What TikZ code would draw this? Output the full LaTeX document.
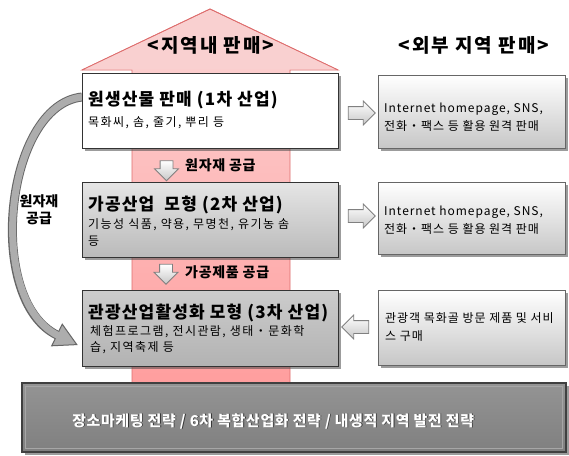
\documentclass[tikz,border=0pt]{standalone}
\usepackage{fontspec}
\setmainfont{Noto Sans CJK KR}
\usetikzlibrary{shapes.arrows,shadows}
\definecolor{headpink}{RGB}{249,208,208}
\definecolor{pinkline}{RGB}{222,110,110}
\definecolor{shafttop}{RGB}{251,214,214}
\definecolor{shaftbot}{RGB}{255,158,158}
\begin{document}
\begin{tikzpicture}[x=1pt,y=-1pt,
  shadowed/.style={drop shadow={shadow xshift=2.5pt,shadow yshift=-2.5pt,opacity=0.55,fill=black!70}},
  mainbox/.style={draw=black!80,line width=0.9pt,minimum width=256pt,inner sep=0pt,shadowed},
  sidebox/.style={draw=black!60,line width=0.8pt,minimum width=187pt,inner sep=0pt,top color=white,bottom color=black!22,shadowed},
  ttl/.style={anchor=west,inner sep=0pt,font=\fontsize{17}{19}\selectfont\bfseries\addfontfeatures{LetterSpace=7}},
  sub/.style={anchor=west,inner sep=0pt,font=\fontsize{12}{14}\selectfont\addfontfeatures{LetterSpace=12}},
  side/.style={anchor=west,inner sep=0pt,align=left,font=\fontsize{12}{18}\selectfont\addfontfeatures{LetterSpace=8}},
  hollow/.style={single arrow,draw=black!50,line width=0.8pt,top color=white,bottom color=black!22,
    minimum height=27pt,single arrow head extend=5.5pt,inner sep=6pt},
  flow/.style={anchor=west,inner sep=0pt,font=\fontsize{14}{16}\selectfont\bfseries\addfontfeatures{LetterSpace=5}},
  heading/.style={inner sep=0pt,font=\fontsize{19}{21}\selectfont\bfseries\addfontfeatures{LetterSpace=10}}]
\fill[white] (0,0) rectangle (569,455);
\useasboundingbox (0,0) rectangle (569,455);
% big pink arrow
\path[top color=shafttop,bottom color=shaftbot,draw=pinkline,line width=0.8pt]
  (132,383) -- (132,70) -- (82,70) -- (210,9) -- (338,70) -- (290,70) -- (290,383) -- cycle;
\fill[headpink] (83.5,69.3) -- (210,10) -- (336.5,69.3) -- cycle;
\draw[pinkline,line width=0.8pt] (82,70) -- (210,9) -- (338,70);
\node[heading] (h1) at (211,45) {<지역내 판매>};
\node[heading] (h2) at (474,45) {<외부 지역 판매>};
% curved arrow
\coordinate (cs) at (82,97);
\coordinate (ce) at (57,335);
\coordinate (ht) at (76.8,344.6);
\coordinate (hl) at (51.75,345.8);
\coordinate (hr) at (62.25,324.2);
\draw[line width=9pt,black!60] (cs) .. controls (5,105) and (-15,300) .. (ce);
\filldraw[fill=black!32,draw=black!60,line width=1pt,line join=miter] (hl) -- (ht) -- (hr) -- cycle;
\draw[line width=7pt,black!32,shorten >=-1.5pt] (cs) .. controls (5,105) and (-15,300) .. (ce);
\node[inner sep=0pt,align=center,font=\fontsize{14}{17}\selectfont\bfseries] (lbl) at (39,210) {원자재\\공급};
% main boxes
\node[mainbox,fill=white,minimum height=75pt] (b1) at (210,110.5) {};
\node[mainbox,top color=black!10,bottom color=black!27,minimum height=75pt] (b2) at (210,219.5) {};
\node[mainbox,top color=black!20,bottom color=black!30,minimum height=76pt] (b3) at (210,328) {};
\node[ttl] (t1) at (88,100) {원생산물 판매 (1차 산업)};
\node[sub] (s1) at (88,123) {목화씨, 솜, 줄기, 뿌리 등};
\node[ttl] (t2) at (88,205) {가공산업\ \ 모형 (2차 산업)};
\node[sub] (s2a) at (88,225) {기능성 식품, 약용, 무명천, 유기농 솜};
\node[sub] (s2b) at (88,241) {등};
\node[ttl] (t3) at (88,313) {관광산업활성화 모형 (3차 산업)};
\node[sub] (s3a) at (90,332) {체험프로그램, 전시관람, 생태・문화학};
\node[sub] (s3b) at (90,348) {습, 지역축제 등};
% down arrows between main boxes
\node[hollow,shape border rotate=270,minimum height=20pt] (d1) at (166.5,167.5) {};
\node[flow] (f1) at (185,165) {원자재 공급};
\node[hollow,shape border rotate=270,minimum height=20pt] (d2) at (166,271) {};
\node[flow] (f2) at (185,272) {가공제품 공급};
% side boxes
\node[sidebox,minimum height=73pt] (r1) at (471.5,111.5) {};
\node[sidebox,minimum height=72pt] (r2) at (471.5,218) {};
\node[sidebox,minimum height=75pt] (r3) at (471.5,327.5) {};
\node[side] (rt1) at (384,117) {Internet homepage, SNS,\\전화・팩스 등 활용 원격 판매};
\node[side] (rt2) at (384,220) {Internet homepage, SNS,\\전화・팩스 등 활용 원격 판매};
\node[side] (rt3) at (385,327) {관광객 목화골 방문 제품 및 서비\\스 구매};
% side arrows
\node[hollow] (a1) at (358.5,113) {};
\node[hollow] (a2) at (358.5,216) {};
\node[hollow,shape border rotate=180] (a3) at (358.5,327) {};
% bottom bar
\node[draw=black!75,line width=1.2pt,top color=black!42,bottom color=black!50,minimum width=544pt,minimum height=69pt,inner sep=0pt,shadowed] (bar) at (294,417.5) {};
\draw[black!35,line width=0.8pt] (25.5,386.5) rectangle (562.5,448.5);
\node[inner sep=0pt,font=\fontsize{15}{17}\selectfont\bfseries\addfontfeatures{LetterSpace=4},text=black!80] (barsh) at (274,421.8) {장소마케팅 전략 / 6차 복합산업화 전략 / 내생적 지역 발전 전략};
\node[inner sep=0pt,font=\fontsize{15}{17}\selectfont\bfseries\addfontfeatures{LetterSpace=4},text=white] (bartx) at (273.2,421) {장소마케팅 전략 / 6차 복합산업화 전략 / 내생적 지역 발전 전략};
\end{tikzpicture}
\end{document}
